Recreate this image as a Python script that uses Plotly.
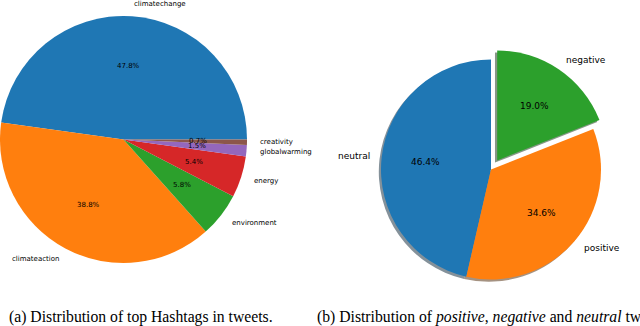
import numpy as np
import plotly.graph_objects as go

W, H = 640, 326

# (a) top hashtags
tags = ["climatechange", "climateaction", "environment", "energy", "globalwarming", "creativity"]
tag_share = [47.8, 38.8, 5.8, 5.4, 1.5, 0.7]
tag_colors = ["#1f77b4", "#ff7f0e", "#2ca02c", "#d62728", "#9467bd", "#8c564b"]

# (b) sentiment
sentiments = ["neutral", "positive", "negative"]
sent_share = [46.4, 34.6, 19.0]
sent_colors = ["#1f77b4", "#ff7f0e", "#2ca02c"]
sent_explode = [0, 0, 0.1]

captions = [
    "(a) Distribution of top Hashtags in tweets.",
    "(b) Distribution of <i>positive</i>, <i>negative</i> and <i>neutral</i> tweets.",
]

FONT = "DejaVu Sans"


def domain(cx, cy, half):
    clip = lambda v: min(max(v, 0.0), 1.0)
    return dict(x=[clip((cx - half) / W), clip((cx + half) / W)],
                y=[clip(1 - (cy + half) / H), clip(1 - (cy - half) / H)])


def plotly_rotation(values, start):
    # plotly's counterclockwise pie puts the first slice clockwise of the
    # rotation line, so rotate to the far edge of the first slice
    first = 360 * values[0] / sum(values)
    return 90 - (start + first)


def pie_text(labels, values, cx, cy, r, start, explode, size):
    # matplotlib-style placement: labels at 1.1 r, percentages at 0.6 r
    vals = np.array(values, dtype=float)
    frac = vals / vals.sum()
    ends = start + 360 * np.cumsum(frac)
    mids = np.radians(ends - 180 * frac)
    anns = []
    for lab, v, th, ex in zip(labels, vals, mids, explode):
        ox = cx + ex * r * np.cos(th)
        oy = cy - ex * r * np.sin(th)
        lx, ly = ox + 1.1 * r * np.cos(th), oy - 1.1 * r * np.sin(th)
        px, py = ox + 0.6 * r * np.cos(th), oy - 0.6 * r * np.sin(th)
        anns.append(dict(x=lx / W, y=1 - ly / H, text=lab, showarrow=False,
                         xanchor="left" if np.cos(th) > 0 else "right", yanchor="middle",
                         font=dict(family=FONT, size=size, color="black"), borderpad=0))
        anns.append(dict(x=px / W, y=1 - py / H, text=f"{v:.1f}%", showarrow=False,
                         xanchor="center", yanchor="middle",
                         font=dict(family=FONT, size=size, color="black"), borderpad=0))
    return anns


def shade(c):
    c = c.lstrip("#")
    rgb = [int(c[i:i + 2], 16) * 0.3 for i in (0, 2, 4)]
    return "rgba(%d,%d,%d,0.5)" % tuple(rgb)


# geometry in pixels
a_cx, a_cy, a_r = 123.5, 139.5, 123.5
b_cx, b_cy, b_r = 491, 169.5, 110
b_pull = max(sent_explode)
b_off = 0.02 * b_r

fig = go.Figure()

fig.add_trace(go.Pie(
    labels=tags, values=tag_share, sort=False,
    direction="counterclockwise", rotation=plotly_rotation(tag_share, 0),
    marker=dict(colors=tag_colors), textinfo="none", hoverinfo="label+percent",
    domain=domain(a_cx, a_cy, a_r)
))

# shadow for the sentiment pie
fig.add_trace(go.Pie(
    labels=sentiments, values=sent_share, sort=False, pull=sent_explode,
    direction="counterclockwise", rotation=plotly_rotation(sent_share, 90),
    marker=dict(colors=[shade(c) for c in sent_colors]), textinfo="none", hoverinfo="skip",
    domain=domain(b_cx - b_off, b_cy + b_off, b_r * (1 + b_pull))
))

fig.add_trace(go.Pie(
    labels=sentiments, values=sent_share, sort=False, pull=sent_explode,
    direction="counterclockwise", rotation=plotly_rotation(sent_share, 90),
    marker=dict(colors=sent_colors), textinfo="none", hoverinfo="label+percent",
    domain=domain(b_cx, b_cy, b_r * (1 + b_pull))
))

anns = pie_text(tags, tag_share, a_cx, a_cy, a_r, 0, [0] * len(tags), 7)
anns += pie_text(sentiments, sent_share, b_cx, b_cy, b_r, 90, sent_explode, 9)

for text, x in zip(captions, [7, 315]):
    anns.append(dict(x=x / W, y=1 - 316.5 / H, text=text, showarrow=False,
                     xanchor="left", yanchor="middle",
                     font=dict(family="Liberation Serif", size=15.7, color="black")))

fig.update_layout(
    width=W, height=H,
    margin=dict(l=0, r=0, t=0, b=0),
    showlegend=False,
    paper_bgcolor="white", plot_bgcolor="white",
    annotations=anns
)

fig.write_html("out.html", config={"displayModeBar": False},
               post_script="document.body.style.margin='0';")
